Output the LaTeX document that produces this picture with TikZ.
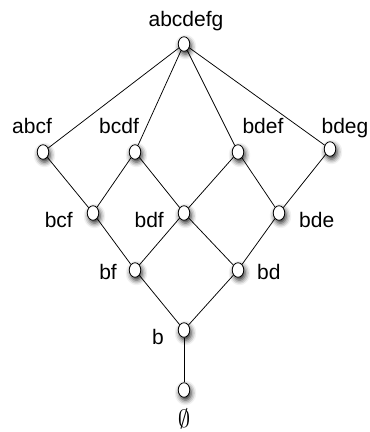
\documentclass[tikz,border=0pt]{standalone}
\usepackage{fontspec}
\setmainfont{Liberation Sans}
\usetikzlibrary{shadows.blur,shapes.geometric}
\begin{document}
\begin{tikzpicture}[x=1pt,y=-1pt,
  vert/.style={ellipse,draw=black,line width=0.8pt,fill=white,minimum width=11.5pt,minimum height=14.5pt,inner sep=0pt,
    blur shadow={shadow xshift=1.5pt,shadow yshift=-3pt,shadow blur radius=5pt,shadow opacity=85}},
  lab/.style={font=\fontsize{21}{23}\selectfont,inner sep=0pt},
  edge/.style={line width=0.75pt,black}]
\useasboundingbox (0,0) rectangle (370,432);
\node[vert] (top) at (184,44) {};
\node[vert] (abcf) at (43,152) {};
\node[vert] (bcdf) at (135,152) {};
\node[vert] (bdef) at (238,152) {};
\node[vert] (bdeg) at (330,149) {};
\node[vert] (bcf) at (93,213) {};
\node[vert] (bdf) at (184,213) {};
\node[vert] (bde) at (279,213) {};
\node[vert] (bf) at (135,270) {};
\node[vert] (bd) at (238,270) {};
\node[vert] (b) at (184,330) {};
\node[vert] (empty) at (184,390) {};
\draw[edge] (top) -- (abcf);
\draw[edge] (top) -- (bcdf);
\draw[edge] (top) -- (bdef);
\draw[edge] (top) -- (bdeg);
\draw[edge] (abcf) -- (bcf);
\draw[edge] (bcdf) -- (bcf);
\draw[edge] (bcdf) -- (bdf);
\draw[edge] (bdef) -- (bdf);
\draw[edge] (bdef) -- (bde);
\draw[edge] (bdeg) -- (bde);
\draw[edge] (bcf) -- (bf);
\draw[edge] (bdf) -- (bf);
\draw[edge] (bdf) -- (bd);
\draw[edge] (bde) -- (bd);
\draw[edge] (bf) -- (b);
\draw[edge] (bd) -- (b);
\draw[edge] (b) -- (empty);
\node[lab,anchor=base] (Ltop) at (186,26) {abcdefg};
\node[lab,anchor=base] (Labcf) at (32,133) {abcf};
\node[lab,anchor=base] (Lbcdf) at (119,133) {bcdf};
\node[lab,anchor=base] (Lbdef) at (263,133) {bdef};
\node[lab,anchor=base] (Lbdeg) at (345,133) {bdeg};
\node[lab,anchor=base east] (Lbcf) at (73,227) {bcf};
\node[lab,anchor=base east] (Lbdf) at (164,227) {bdf};
\node[lab,anchor=base west] (Lbde) at (299,227) {bde};
\node[lab,anchor=base east] (Lbf) at (117,279) {bf};
\node[lab,anchor=base west] (Lbd) at (257,279) {bd};
\node[lab,anchor=base east] (Lb) at (164,344) {b};
\node[inner sep=0pt,font=\fontsize{27}{29}\selectfont] (Lempty) at (184,419) {$\emptyset$};
\end{tikzpicture}
\end{document}
